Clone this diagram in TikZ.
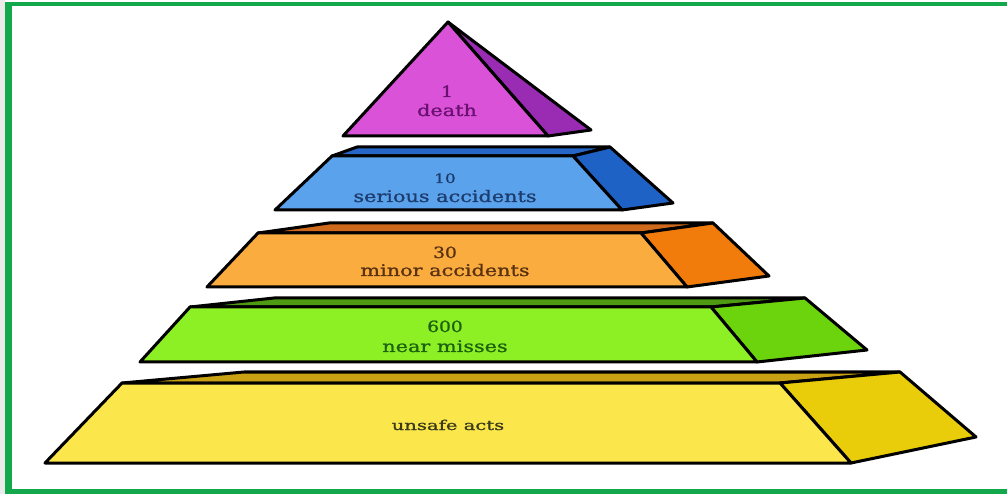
\documentclass[tikz,border=0pt]{standalone}
\usepackage{fontspec}
\setmainfont{Liberation Serif}
\newfontfamily\lblfont[FakeBold=1]{DejaVu Serif}
\definecolor{frameG}{HTML}{14A84C}
\definecolor{triF}{HTML}{DA52D8}
\definecolor{triS}{HTML}{9A2CB4}
\definecolor{bluF}{HTML}{5BA2EC}
\definecolor{bluT}{HTML}{2566C8}
\definecolor{bluS}{HTML}{1F62C6}
\definecolor{orgF}{HTML}{FAAC3E}
\definecolor{orgT}{HTML}{CF6A1C}
\definecolor{orgS}{HTML}{F17C0C}
\definecolor{grnF}{HTML}{8DF024}
\definecolor{grnT}{HTML}{4E9A12}
\definecolor{grnS}{HTML}{6BD40C}
\definecolor{yelF}{HTML}{FBE74C}
\definecolor{yelT}{HTML}{C9A214}
\definecolor{yelS}{HTML}{E9CD0A}
\definecolor{txtP}{HTML}{6A1070}
\definecolor{txtB}{HTML}{1C3C6E}
\definecolor{txtO}{HTML}{5A3212}
\definecolor{txtG}{HTML}{1C6010}
\definecolor{txtY}{HTML}{3A3A1A}
\tikzset{
  face/.style={draw=black, line width=3pt, line join=round},
  lbl/.style={font=\lblfont\fontsize{16}{18}\selectfont, inner sep=0pt, anchor=base, xscale=1.3},
  num/.style={font=\lblfont\fontsize{15.5}{18}\selectfont, inner sep=0pt, anchor=base, xscale=1.2},
  numsm/.style={font=\lblfont\fontsize{13}{15}\selectfont, inner sep=0pt, anchor=base, xscale=1.3},
  lbly/.style={font=\lblfont\fontsize{13.5}{16}\selectfont, inner sep=0pt, anchor=base, xscale=1.45},
}
\begin{document}
\begin{tikzpicture}[x=1pt,y=-1pt]
\useasboundingbox (0,0) rectangle (1007,494);
\fill[white] (0,0) rectangle (1007,494);
% frame
\fill[black!8] (0,0) rectangle (5,494);
\fill[frameG] (5,2) rectangle (1007,6);
\fill[frameG] (5,2) rectangle (12,494);
\fill[frameG] (5,489) rectangle (1007,494);

% triangle
\coordinate (tA) at (448,22);
\coordinate (tL) at (343,136);
\coordinate (tR) at (548,136);
\coordinate (tF) at (591,130);
\filldraw[face, fill=triS] (tA) -- (tF) -- (tR) -- cycle;
\filldraw[face, fill=triF] (tA) -- (tR) -- (tL) -- cycle;
\node[num, text=txtP] (t1) at (447,97) {1};
\node[lbl, text=txtP] (t2) at (447,116) {death};

% blue
\coordinate (bBL) at (275,210); \coordinate (bFTL) at (332,156);
\coordinate (bKL) at (357,147); \coordinate (bKR) at (610,147);
\coordinate (bFTR) at (573,156); \coordinate (bFBR) at (622,210);
\coordinate (bFAR) at (673,203);
\filldraw[face, fill=bluT] (bFTL) -- (bKL) -- (bKR) -- (bFTR) -- cycle;
\filldraw[face, fill=bluS] (bFTR) -- (bKR) -- (bFAR) -- (bFBR) -- cycle;
\filldraw[face, fill=bluF] (bBL) -- (bFTL) -- (bFTR) -- (bFBR) -- cycle;
\node[numsm, text=txtB] (b1) at (445,183) {10};
\node[lbl, text=txtB] (b2) at (445,202) {serious accidents};

% orange
\coordinate (oBL) at (207,287); \coordinate (oFTL) at (258,233);
\coordinate (oKL) at (329,223); \coordinate (oKR) at (713,223);
\coordinate (oFTR) at (641,233); \coordinate (oFBR) at (687,287);
\coordinate (oFAR) at (769,276);
\filldraw[face, fill=orgT] (oFTL) -- (oKL) -- (oKR) -- (oFTR) -- cycle;
\filldraw[face, fill=orgS] (oFTR) -- (oKR) -- (oFAR) -- (oFBR) -- cycle;
\filldraw[face, fill=orgF] (oBL) -- (oFTL) -- (oFTR) -- (oFBR) -- cycle;
\node[num, text=txtO] (o1) at (445,258) {30};
\node[lbl, text=txtO] (o2) at (445,276) {minor accidents};

% green
\coordinate (gBL) at (140,362); \coordinate (gFTL) at (190,307);
\coordinate (gKL) at (274,298); \coordinate (gKR) at (805,298);
\coordinate (gFTR) at (711,307); \coordinate (gFBR) at (757,362);
\coordinate (gFAR) at (867,350);
\filldraw[face, fill=grnT] (gFTL) -- (gKL) -- (gKR) -- (gFTR) -- cycle;
\filldraw[face, fill=grnS] (gFTR) -- (gKR) -- (gFAR) -- (gFBR) -- cycle;
\filldraw[face, fill=grnF] (gBL) -- (gFTL) -- (gFTR) -- (gFBR) -- cycle;
\node[num, text=txtG] (g1) at (445,332) {600};
\node[lbl, text=txtG] (g2) at (445,352) {near misses};

% yellow
\coordinate (yBL) at (45,463); \coordinate (yFTL) at (122,383);
\coordinate (yKL) at (244,372); \coordinate (yKR) at (900,372);
\coordinate (yFTR) at (780,383); \coordinate (yFBR) at (851,463);
\coordinate (yFAR) at (976,437);
\filldraw[face, fill=yelT] (yFTL) -- (yKL) -- (yKR) -- (yFTR) -- cycle;
\filldraw[face, fill=yelS] (yFTR) -- (yKR) -- (yFAR) -- (yFBR) -- cycle;
\filldraw[face, fill=yelF] (yBL) -- (yFTL) -- (yFTR) -- (yFBR) -- cycle;
\node[lbly, text=txtY] (y1) at (448,430) {unsafe acts};
\end{tikzpicture}
\end{document}
